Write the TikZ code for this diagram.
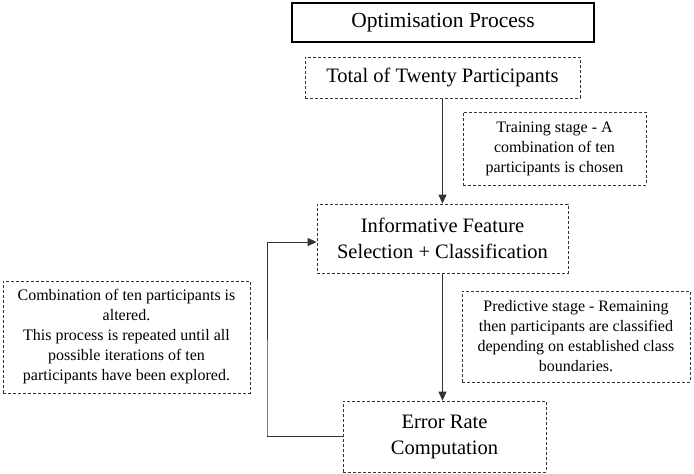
\documentclass[tikz,border=0pt]{standalone}
\usepackage{fontspec}
\setmainfont{Liberation Serif}
\usetikzlibrary{arrows.meta}
\definecolor{linegray}{HTML}{333333}
\tikzset{
  base/.style={inner sep=0pt, align=center, text=black},
  solidbox/.style={base, draw=black, line width=1.1pt},
  dashbox/.style={base, draw=linegray, line width=0.8pt, dash pattern=on 3pt off 2pt},
  bigtxt/.style={font=\fontsize{20.5}{26}\selectfont},
  titletxt/.style={font=\fontsize{21.5}{26}\selectfont},
  smalltxt/.style={font=\fontsize{16}{20}\selectfont},
  arr/.style={draw=linegray, line width=0.9pt, -{Triangle[length=9pt,width=8pt]}},
}
\begin{document}
\begin{tikzpicture}[x=1pt,y=-1pt]
\useasboundingbox (0,0) rectangle (694,474);
\node[solidbox, titletxt, minimum width=302pt, minimum height=39pt] (title) at (443,22.5) {Optimisation Process};
\node[dashbox, bigtxt, minimum width=275pt, minimum height=41pt] (total) at (442.5,77.5) {Total of Twenty Participants};
\node[dashbox, smalltxt, minimum width=183pt, minimum height=73pt] (train) at (554.5,148.5) {Training stage - A\\combination of ten\\participants is chosen};
\node[dashbox, bigtxt, minimum width=251pt, minimum height=69pt] (info) at (442.5,238.5) {Informative Feature\\Selection + Classification};
\node[dashbox, smalltxt, minimum width=228pt, minimum height=91pt] (pred) at (576,336.5) {Predictive stage - Remaining\\then participants are classified\\depending on established class\\boundaries.};
\node[dashbox, smalltxt, minimum width=247pt, minimum height=112pt] (left) at (126.5,337) {Combination of ten participants is\\altered.\\This process is repeated until all\\possible iterations of ten\\participants have been explored.};
\node[dashbox, bigtxt, minimum width=203pt, minimum height=71pt] (err) at (444.5,436.5) {Error Rate\\Computation};
\coordinate (fb) at (267,435);
\draw[arr] (info.north |- total.south) -- (info.north);
\draw[arr] (info.south) -- (info.south |- err.north);
\draw[arr] (err.west) -| (fb) |- ([yshift=-3.5pt]info.west);
\end{tikzpicture}
\end{document}
